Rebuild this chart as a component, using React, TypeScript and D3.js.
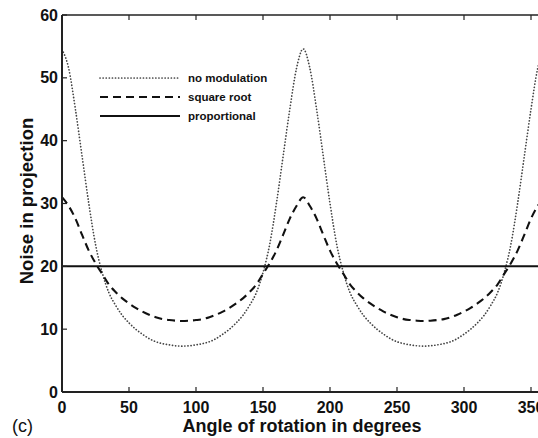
import React from "react";
import * as d3 from "d3";

const angles: number[] = [
  0, 5, 10, 15, 20, 25, 30, 35, 40, 45, 50, 55, 60, 65, 70, 75, 80, 85, 90,
  95, 100, 105, 110, 115, 120, 125, 130, 135, 140, 145, 150, 155, 160, 165, 170, 175, 180,
  185, 190, 195, 200, 205, 210, 215, 220, 225, 230, 235, 240, 245, 250, 255, 260, 265, 270,
  275, 280, 285, 290, 295, 300, 305, 310, 315, 320, 325, 330, 335, 340, 345, 350, 355, 360,
];

const noModulation: number[] = [
  54.5, 51.5, 45, 37.5, 30, 23.5, 19, 15.8, 13.8, 12.2, 11, 10, 9.2, 8.5, 8.0, 7.7, 7.5, 7.35, 7.3,
  7.35, 7.5, 7.7, 8.0, 8.5, 9.2, 10, 11, 12.2, 13.8, 15.8, 19, 23.5, 30, 37.5, 45, 51.5, 54.6,
  51.5, 45, 37.5, 30, 23.5, 19, 15.8, 13.8, 12.2, 11, 10, 9.2, 8.5, 8.0, 7.7, 7.5, 7.35, 7.3,
  7.35, 7.5, 7.7, 8.0, 8.5, 9.2, 10, 11, 12.2, 13.8, 15.8, 19, 23.5, 30, 37.5, 45, 51.5, 54.5,
];

const squareRoot: number[] = [
  31, 29.6, 27.6, 25, 22.5, 20.5, 18.8, 17.1, 15.9, 14.9, 14.1, 13.4, 12.8, 12.3, 11.9, 11.6, 11.45, 11.35, 11.3,
  11.35, 11.45, 11.6, 11.9, 12.3, 12.8, 13.4, 14.1, 14.9, 15.9, 17.1, 18.8, 20.5, 22.5, 25, 27.6, 29.6, 31,
  29.6, 27.6, 25, 22.5, 20.5, 18.8, 17.1, 15.9, 14.9, 14.1, 13.4, 12.8, 12.3, 11.9, 11.6, 11.45, 11.35, 11.3,
  11.35, 11.45, 11.6, 11.9, 12.3, 12.8, 13.4, 14.1, 14.9, 15.9, 17.1, 18.8, 20.5, 22.5, 25, 27.6, 29.6, 31,
];

const proportional: number[] = angles.map(() => 20);

const xTicks: number[] = [0, 50, 100, 150, 200, 250, 300, 350];
const yTicks: number[] = [0, 10, 20, 30, 40, 50, 60];

const legendLabels: string[] = ["no modulation", "square root", "proportional"];

export default function App() {
  const W = 538;
  const H = 438;
  const left = 62;
  const top = 15;
  const bottom = 392;
  const x = d3.scaleLinear().domain([0, 360]).range([left, left + 360 * 1.34]);
  const y = d3.scaleLinear().domain([0, 60]).range([bottom, top]);
  const line = d3
    .line<number>()
    .x((_, i) => x(angles[i]))
    .y((d) => y(d))
    .curve(d3.curveMonotoneX);

  const series = [
    { data: noModulation, dash: "0.1 3", width: 1.7, color: "#444", cap: "round" },
    { data: squareRoot, dash: "8 5", width: 2.1, color: "#111", cap: "butt" },
    { data: proportional, dash: "none", width: 2, color: "#111", cap: "butt" },
  ];

  const font = "'Liberation Sans', Arial, Helvetica, sans-serif";
  const right = x(360);

  return (
    <svg
      width={W}
      height={H}
      style={{ position: "absolute", left: 0, top: 0, background: "#fff" }}
      fontFamily={font}
    >
      <defs>
        <clipPath id="plot">
          <rect x={left} y={top} width={right - left} height={bottom - top} />
        </clipPath>
      </defs>
      <rect x={0} y={0} width={W} height={H} fill="#fff" />
      <g clipPath="url(#plot)">
        {series.map((s, i) => (
          <path
            key={i}
            d={line(s.data) || ""}
            fill="none"
            stroke={s.color}
            strokeWidth={s.width}
            strokeDasharray={s.dash}
            strokeLinecap={s.cap as any}
          />
        ))}
      </g>
      <line x1={left} x2={right} y1={top} y2={top} stroke="#222" strokeWidth={1.6} />
      <line x1={left} x2={right} y1={bottom} y2={bottom} stroke="#222" strokeWidth={1.8} />
      <line x1={left} x2={left} y1={top} y2={bottom} stroke="#222" strokeWidth={2} />
      <line x1={right} x2={right} y1={top} y2={bottom} stroke="#222" strokeWidth={1.6} />
      {xTicks.map((t) => (
        <g key={"x" + t}>
          <line x1={x(t)} x2={x(t)} y1={bottom} y2={bottom - 5} stroke="#222" strokeWidth={1.2} />
          <line x1={x(t)} x2={x(t)} y1={top} y2={top + 5} stroke="#222" strokeWidth={1.2} />
          <text x={x(t)} y={413} textAnchor="middle" fontSize={16} fontWeight="bold" fill="#111">
            {t}
          </text>
        </g>
      ))}
      {yTicks.map((t) => (
        <g key={"y" + t}>
          <line x1={left} x2={left + 5} y1={y(t)} y2={y(t)} stroke="#222" strokeWidth={1.2} />
          <text x={left - 4} y={y(t) + 5.5} textAnchor="end" fontSize={16} fontWeight="bold" fill="#111">
            {t}
          </text>
        </g>
      ))}
      {series.map((s, i) => {
        const ly = 78 + i * 19;
        return (
          <g key={"l" + i}>
            <line
              x1={100}
              x2={180}
              y1={ly}
              y2={ly}
              stroke={s.color}
              strokeWidth={s.width}
              strokeDasharray={s.dash}
              strokeLinecap={s.cap as any}
            />
            <text x={188} y={ly + 4} fontSize={11.5} fontWeight="bold" fill="#111">
              {legendLabels[i]}
            </text>
          </g>
        );
      })}
      <text
        transform={`translate(33, 201) rotate(-90)`}
        textAnchor="middle"
        fontSize={18.5}
        fontWeight="bold"
        fill="#111"
      >
        Noise in projection
      </text>
      <text x={302} y={432} textAnchor="middle" fontSize={18} fontWeight="bold" fill="#111">
        Angle of rotation in degrees
      </text>
      <text x={12} y={432} fontSize={18} fill="#111">
        (c)
      </text>
    </svg>
  );
}
